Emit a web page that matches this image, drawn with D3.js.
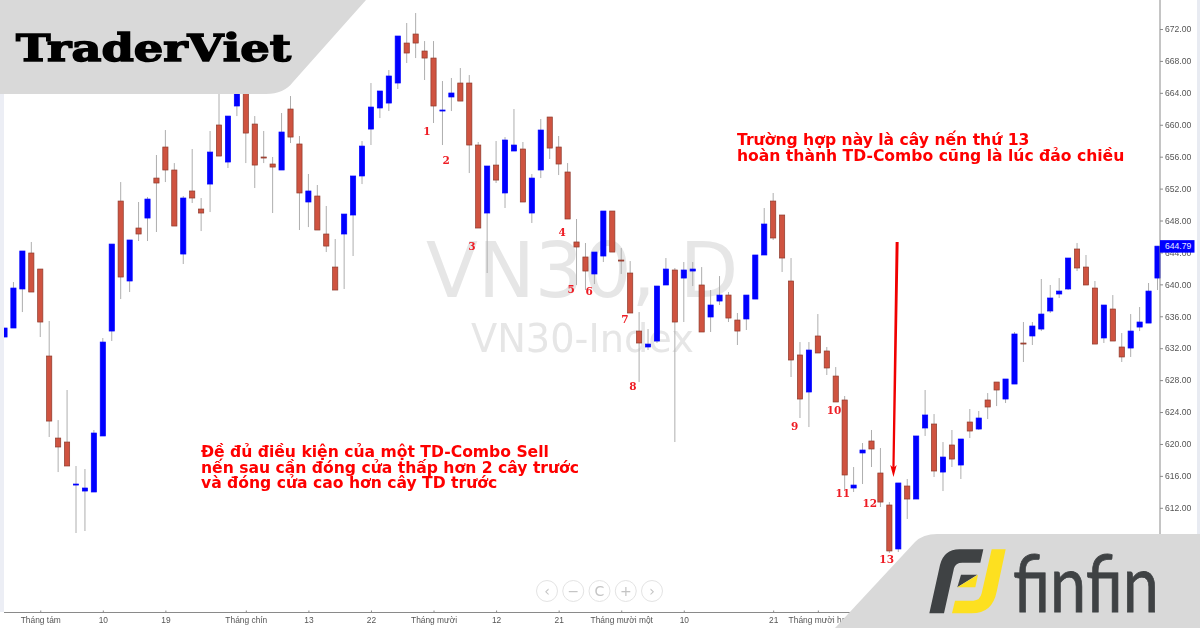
<!DOCTYPE html>
<html><head><meta charset="utf-8">
<script src="https://cdn.jsdelivr.net/npm/d3@7"></script>
<style>html,body{margin:0;padding:0;background:#fff;overflow:hidden}svg{display:block;filter:blur(.35px)}</style>
</head><body><div id="c"></div>
<script>
const opens=[633.40,634.53,639.42,643.93,641.92,631.02,620.74,620.24,614.85,614.10,
613.98,621.00,634.15,650.44,640.42,647.06,648.31,653.32,657.21,654.33,
643.80,651.70,649.44,652.57,659.97,655.33,662.35,664.98,660.09,655.96,
655.08,654.33,661.97,657.59,650.32,651.07,646.31,642.17,646.31,648.69,
653.58,659.46,662.10,662.72,665.23,670.24,671.37,669.24,668.36,661.72,
663.48,665.23,665.23,657.46,648.94,654.95,651.45,656.71,656.96,648.94,
654.33,660.97,657.21,654.08,645.31,643.43,641.30,643.55,649.19,643.05,
641.42,634.15,632.15,632.90,639.92,641.80,640.79,641.67,639.92,635.91,
637.91,638.66,635.53,635.66,638.16,643.68,650.44,648.69,640.42,631.15,
626.51,633.53,631.65,628.51,625.51,614.48,618.87,620.37,616.36,612.35,
606.84,614.73,613.10,622.00,622.50,616.48,619.87,617.36,622.75,621.87,
625.51,627.76,625.63,627.51,632.65,633.53,634.40,636.66,638.79,639.42,
644.43,642.17,639.54,633.28,636.91,632.15,632.02,634.65,635.15,640.79];
const highs=[634.53,640.29,644.18,645.31,641.92,635.41,622.99,626.76,617.24,616.86,
621.75,633.28,645.05,652.82,645.56,650.32,650.94,656.21,659.34,655.20,
651.07,656.96,650.82,659.22,664.60,661.09,665.61,665.61,661.09,659.22,
655.96,661.47,663.60,658.59,653.83,652.45,649.82,645.68,648.81,653.58,
657.96,665.23,664.23,666.86,671.12,672.75,674.00,670.49,670.49,665.48,
665.86,667.11,666.23,657.84,654.83,657.96,658.46,661.97,657.84,653.83,
660.72,660.97,658.59,655.20,648.19,645.18,644.05,649.19,649.19,644.55,
642.92,636.53,634.40,639.79,643.30,642.05,642.80,642.80,642.17,639.29,
641.04,639.04,636.41,638.66,643.68,649.57,651.45,648.69,643.30,632.77,
632.77,636.28,632.15,629.64,626.01,617.11,620.12,621.75,619.49,612.72,
615.11,615.61,621.00,626.76,623.75,620.24,621.75,620.62,624.38,624.13,
626.38,627.76,628.14,634.03,635.28,635.28,640.67,639.92,640.79,643.30,
645.18,643.68,640.42,637.41,638.66,633.90,636.28,637.16,640.17,644.79];
const lows=[633.40,634.53,636.53,639.04,633.40,620.87,616.48,617.24,608.84,609.09,
613.98,621.00,632.90,638.16,639.04,645.43,645.43,646.56,652.82,647.31,
642.55,650.19,646.68,649.06,656.08,654.58,661.09,655.20,652.07,655.20,
648.94,654.33,657.71,646.81,647.18,646.81,644.05,639.29,639.42,643.55,
652.57,657.46,660.84,661.72,664.48,667.74,668.36,665.61,660.22,657.46,
661.72,662.97,653.95,647.06,641.42,652.70,649.57,656.71,650.32,647.69,
653.32,655.71,653.70,648.19,639.92,639.29,640.04,642.80,644.05,641.30,
636.41,627.76,631.77,632.65,639.92,620.24,635.28,639.79,634.03,634.03,
637.41,635.28,632.40,634.28,638.16,643.68,645.56,641.55,628.39,623.25,
622.12,631.40,628.64,625.26,614.23,613.98,614.98,617.11,612.10,606.34,
606.46,610.60,613.10,621.00,615.86,614.10,617.11,615.61,620.74,621.75,
623.12,624.75,625.13,627.51,630.27,632.40,634.15,636.41,638.29,639.29,
641.67,639.92,632.52,632.65,632.90,630.27,630.90,634.15,635.15,639.29];
const closes=[634.53,639.54,644.18,639.04,635.28,622.87,619.62,617.24,614.98,614.48,
621.37,632.77,645.05,640.92,645.56,646.31,650.69,652.70,654.33,647.31,
650.82,650.82,648.94,656.58,656.08,661.09,665.61,658.96,654.95,655.83,
654.70,659.09,658.46,651.45,651.70,646.81,644.80,639.29,648.81,653.58,
657.33,662.22,664.23,666.11,671.12,668.99,670.24,668.36,662.35,661.85,
663.98,662.97,657.46,647.06,654.83,653.07,658.09,657.46,650.32,653.32,
659.34,657.08,655.08,648.19,644.68,641.67,644.05,649.19,644.05,642.92,
636.41,632.65,632.52,639.79,641.92,635.28,641.80,641.92,634.03,637.41,
638.66,635.78,634.15,638.66,643.68,647.56,645.81,643.30,630.52,625.63,
631.77,631.40,629.52,625.26,616.11,614.85,619.24,619.37,612.72,606.59,
615.11,613.10,621.00,623.63,616.61,618.36,618.11,620.62,621.62,623.25,
624.63,626.76,628.14,633.78,632.52,634.78,636.28,638.29,639.16,643.30,
642.05,639.92,632.52,637.41,632.90,630.90,634.15,635.28,639.16,644.79];

const yTicks=[612,616,620,624,628,632,636,640,644,648,652,656,660,664,668,672,676];
const xTickIdx=[4,11,18,27,34,41,48,55,62,69,76,86,91];
const xTickLabels=["Tháng tám","10","19","Tháng chín","13","22","Tháng mười","12","21","Tháng mười một","10","21","Tháng mười hai"];
const lastPrice=644.79;

const tdLabels=["1","2","3","4","5","6","7","8","9","10","11","12","13"];
const tdIndex=[47.27,49.4,52.3,62.4,63.4,65.4,69.4,70.3,88.4,92.8,93.8,96.8,98.7];
const tdPrice=[659.22,655.58,644.80,646.56,639.42,639.16,635.66,627.26,622.25,624.25,613.85,612.6,605.58];

const noteLeft=["Đề đủ điều kiện của một TD-Combo Sell","nến sau cần đóng cửa thấp hơn 2 cây trước","và đóng cửa cao hơn cây TD trước"];
const noteRight=["Trường hợp này là cây nến thứ 13","hoàn thành TD-Combo cũng là lúc đảo chiều"];
const navGlyphs=["‹","−","C","+","›"];

const W=1200,H=628;
const svg=d3.select("#c").append("svg").attr("width",W).attr("height",H).attr("viewBox",`0 0 ${W} ${H}`);
const x=d3.scaleLinear().domain([0,129]).range([4.5,1157.5]);
const y=d3.scaleLinear().domain([672,612]).range([29,507.8]);

// watermark
svg.append("text").attr("x",426).attr("y",297).text("VN30, D")
  .attr("font-family","DejaVu Sans").attr("font-size",76).attr("fill","#e6e6e6");
svg.append("text").attr("x",471).attr("y",352).text("VN30-Index")
  .attr("font-family","DejaVu Sans").attr("font-size",38.3).attr("fill","#e6e6e6");

// candles
const idx=d3.range(opens.length);
const RED="#cf5340",REDB="#8c3a2c",BLUE="#0000ff";
svg.append("g").selectAll("line").data(idx).join("line")
  .attr("x1",i=>x(i)).attr("x2",i=>x(i)).attr("y1",i=>y(highs[i])).attr("y2",i=>y(lows[i]))
  .attr("stroke","#aeaeae").attr("stroke-width",1);
svg.append("g").selectAll("rect").data(idx).join("rect")
  .attr("x",i=>x(i)-2.6).attr("width",5.2)
  .attr("y",i=>y(Math.max(opens[i],closes[i])))
  .attr("height",i=>Math.max(1,Math.abs(y(opens[i])-y(closes[i]))))
  .attr("fill",i=>closes[i]>=opens[i]?BLUE:RED)
  .attr("stroke",i=>closes[i]>=opens[i]?BLUE:REDB).attr("stroke-width",.7);

// side bands
svg.append("rect").attr("x",0).attr("y",0).attr("width",4).attr("height",612).attr("fill","#eceef5");
svg.append("rect").attr("x",1197).attr("y",0).attr("width",3).attr("height",628).attr("fill","#e8ebf2");

// axes
const axB=d3.axisBottom(x).tickValues(xTickIdx).tickFormat((d,i)=>xTickLabels[i]).tickSize(3).tickPadding(1.5);
const gx=svg.append("g").attr("transform","translate(0,612.5)").call(axB);
gx.select(".domain").attr("d","M4,0H1160").attr("stroke","#8a8a8a");
gx.selectAll(".tick line").attr("stroke","#8a8a8a").attr("y1",-2).attr("y2",0);
gx.selectAll("text").attr("font-family","Liberation Sans").attr("font-size",8.4).attr("fill","#555");

const axR=d3.axisRight(y).tickValues(yTicks).tickFormat(d3.format(".2f")).tickSize(3).tickPadding(2);
const gy=svg.append("g").attr("transform","translate(1160,0)").call(axR);
gy.select(".domain").attr("d","M0,0V612").attr("stroke","#8a8a8a");
gy.selectAll(".tick line").attr("stroke","#8a8a8a");
gy.selectAll("text").attr("font-family","Liberation Sans").attr("font-size",8.6).attr("fill","#555");

// last price
const lp=svg.append("g").attr("transform",`translate(1160,${y(lastPrice)})`);
lp.append("rect").attr("x",0).attr("y",-6).attr("width",34.5).attr("height",12.5).attr("fill",BLUE);
lp.append("text").attr("x",5).attr("y",3.2).text(lastPrice.toFixed(2)).attr("fill","#e8ecff")
  .attr("font-family","Liberation Sans").attr("font-size",8.6);

// nav buttons
const navX=d3.scaleLinear().domain([0,4]).range([547,652]);
const nav=svg.append("g").selectAll("g").data(navGlyphs).join("g").attr("transform",(d,i)=>`translate(${navX(i)},591)`);
nav.append("circle").attr("r",10.5).attr("fill","#fff").attr("stroke","#e3e3e3").attr("stroke-width",1);
nav.append("text").text(d=>d).attr("text-anchor","middle").attr("dominant-baseline","central")
  .attr("font-family","DejaVu Sans").attr("font-size",14).attr("fill","#c4c4c4");

// TD count
svg.append("g").selectAll("text").data(tdLabels).join("text")
  .attr("x",(d,i)=>x(tdIndex[i])).attr("y",(d,i)=>y(tdPrice[i])).text(d=>d)
  .attr("text-anchor","middle").attr("dominant-baseline","central")
  .attr("font-family","DejaVu Serif").attr("font-weight","bold").attr("font-size",10.5).attr("fill","#ee1c24");

// notes
const noteStyle=s=>s.attr("font-family","DejaVu Sans").attr("font-weight","bold").attr("font-size",15.6).attr("fill","#fe0000");
noteStyle(svg.append("g").selectAll("text").data(noteLeft).join("text")
  .attr("x",201).attr("y",(d,i)=>457+i*15.7).text(d=>d));
noteStyle(svg.append("g").selectAll("text").data(noteRight).join("text")
  .attr("x",737).attr("y",(d,i)=>145+i*15.7).text(d=>d));

// arrow
const arrowIdx=[99.87,99.46],arrowPrice=[645.3,615.85];
const ax0=x(arrowIdx[0]),ay0=y(arrowPrice[0]),ax1=x(arrowIdx[1]),ay1=y(arrowPrice[1]);
svg.append("path").attr("d",`M${ax0-1.5},${ay0}L${ax0+1.5},${ay0}L${ax1+1.1},${ay1-10}L${ax1+3.2},${ay1-12}L${ax1},${ay1}L${ax1-3.2},${ay1-12}L${ax1-1.1},${ay1-10}Z`)
  .attr("fill","#f00000");

// TraderViet panel
svg.append("path").attr("d","M0,0H366L293,82Q284,94 266,94H0Z").attr("fill","#d9d9d9");
svg.append("text").attr("x",16).attr("y",61).text("TraderViet")
  .attr("font-family","DejaVu Serif").attr("font-weight","bold").attr("font-size",38)
  .attr("textLength",275).attr("lengthAdjust","spacingAndGlyphs")
  .attr("fill","#000").attr("stroke","#000").attr("stroke-width",1.5);

// finfin panel
svg.append("path").attr("d","M835,628L915,542Q923,534 937,534H1200V628Z").attr("fill","#d9d9d9");
const s=(a,b)=>`${800+a/3},${530+b/3}`;
svg.append("path").attr("fill","#3f4244").attr("d",`M${s(388,250)}L${s(420,105)}Q${s(432,58)} ${s(478,58)}L${s(550,58)}L${s(541,98)}L${s(487,98)}Q${s(466,98)} ${s(462,115)}L${s(432,250)}Z`);
svg.append("path").attr("fill","#3f4244").attr("d",`M${s(483,134)}L${s(532,134)}L${s(472,172)}Z`);
svg.append("path").attr("fill","#fde020").attr("d",`M${s(575,58)}L${s(617,58)}L${s(590,185)}Q${s(577,250)} ${s(515,250)}L${s(456,250)}L${s(465,212)}L${s(520,212)}Q${s(540,212)} ${s(545,190)}Z`);
svg.append("path").attr("fill","#fde020").attr("d",`M${s(472,172)}L${s(534,134)}L${s(526,172)}Z`);
svg.append("text").attr("x",1013).attr("y",612).text("finfin")
  .attr("font-family","Lato").attr("font-size",80)
  .attr("textLength",146).attr("lengthAdjust","spacingAndGlyphs")
  .attr("fill","#3f4244").attr("stroke","#3f4244").attr("stroke-width",.8);
</script></body></html>
